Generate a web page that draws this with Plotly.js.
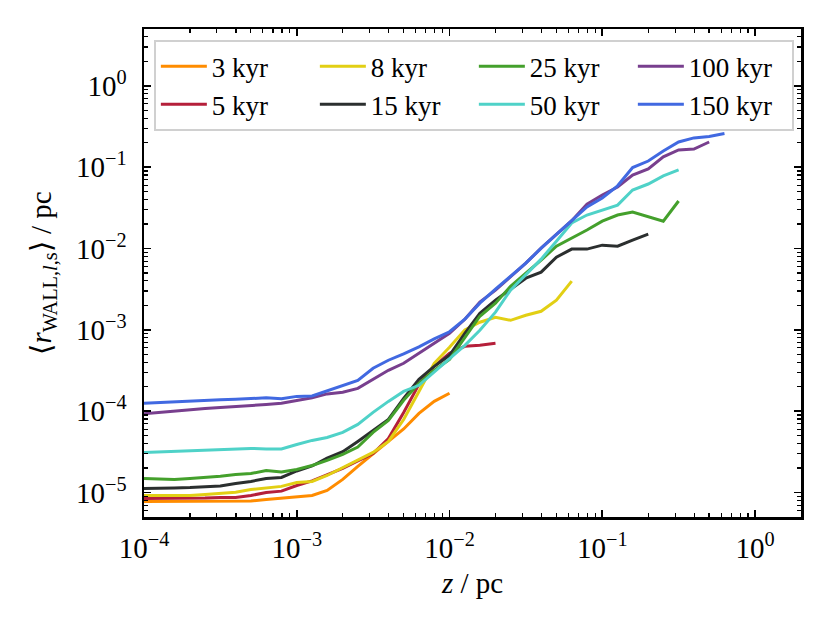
<!DOCTYPE html>
<html>
<head>
<meta charset="utf-8">
<script src="https://cdn.plot.ly/plotly-3.0.1.min.js"></script>
<style>
  html, body { margin: 0; padding: 0; background: #fff; }
  #chart { width: 831px; height: 623px; }
</style>
</head>
<body>
<div id="chart"></div>
<script>
// height z above the wall (pc), shared log bins
const z = [1.00e-4, 1.26e-4, 1.58e-4, 2.00e-4, 2.51e-4, 3.16e-4, 3.98e-4, 5.01e-4, 6.31e-4, 7.94e-4,
           1.00e-3, 1.26e-3, 1.58e-3, 2.00e-3, 2.51e-3, 3.16e-3, 3.98e-3, 5.01e-3, 6.31e-3, 7.94e-3,
           1.00e-2, 1.26e-2, 1.58e-2, 2.00e-2, 2.51e-2, 3.16e-2, 3.98e-2, 5.01e-2, 6.31e-2, 7.94e-2,
           1.00e-1, 1.26e-1, 1.58e-1, 2.00e-1, 2.51e-1, 3.16e-1, 3.98e-1, 5.01e-1, 6.31e-1];

// mean wall radius per snapshot (pc)
const r3kyr = [7.75e-6, 7.75e-6, 7.75e-6, 7.75e-6, 7.75e-6, 7.75e-6, 7.75e-6, 7.85e-6, 8.20e-6, 8.55e-6,
               8.93e-6, 9.19e-6, 1.06e-5, 1.45e-5, 2.09e-5, 3.02e-5, 4.25e-5, 6.05e-5, 9.40e-5, 1.32e-4,
               1.66e-4];
const r5kyr = [8.43e-6, 8.43e-6, 8.43e-6, 8.43e-6, 8.55e-6, 8.67e-6, 8.67e-6, 9.19e-6, 1.00e-5, 1.04e-5,
               1.22e-5, 1.39e-5, 1.67e-5, 1.98e-5, 2.45e-5, 3.02e-5, 4.62e-5, 9.66e-5, 2.14e-4, 3.56e-4,
               5.15e-4, 6.28e-4, 6.46e-4, 6.84e-4];
const r8kyr = [9.19e-6, 9.19e-6, 9.19e-6, 9.19e-6, 9.44e-6, 9.72e-6, 1.01e-5, 1.09e-5, 1.14e-5, 1.19e-5,
               1.33e-5, 1.37e-5, 1.62e-5, 2.03e-5, 2.55e-5, 3.11e-5, 4.25e-5, 7.90e-5, 1.75e-4, 3.88e-4,
               6.10e-4, 1.00e-3, 1.24e-3, 1.43e-3, 1.31e-3, 1.51e-3, 1.69e-3, 2.32e-3, 3.97e-3];
const r15kyr = [1.12e-5, 1.12e-5, 1.14e-5, 1.15e-5, 1.17e-5, 1.20e-5, 1.29e-5, 1.37e-5, 1.49e-5, 1.53e-5,
                1.84e-5, 2.12e-5, 2.65e-5, 3.17e-5, 4.25e-5, 5.80e-5, 7.92e-5, 1.44e-4, 2.47e-4, 3.56e-4,
                4.86e-4, 9.08e-4, 1.60e-3, 2.32e-3, 3.16e-3, 4.32e-3, 5.12e-3, 7.83e-3, 9.84e-3, 9.84e-3,
                1.10e-2, 1.07e-2, 1.27e-2, 1.50e-2];
const r25kyr = [1.49e-5, 1.47e-5, 1.45e-5, 1.49e-5, 1.53e-5, 1.59e-5, 1.66e-5, 1.71e-5, 1.87e-5, 1.79e-5,
                1.92e-5, 2.15e-5, 2.48e-5, 2.94e-5, 3.63e-5, 5.48e-5, 7.71e-5, 1.36e-4, 2.20e-4, 3.18e-4,
                4.34e-4, 7.90e-4, 1.47e-3, 2.13e-3, 3.44e-3, 4.98e-3, 7.20e-3, 1.07e-2, 1.34e-2, 1.69e-2,
                2.17e-2, 2.58e-2, 2.81e-2, 2.44e-2, 2.17e-2, 3.84e-2];
const r50kyr = [3.11e-5, 3.16e-5, 3.20e-5, 3.29e-5, 3.34e-5, 3.39e-5, 3.44e-5, 3.48e-5, 3.44e-5, 3.44e-5,
                3.90e-5, 4.37e-5, 4.75e-5, 5.48e-5, 6.87e-5, 9.66e-5, 1.32e-4, 1.75e-4, 2.08e-4, 3.01e-4,
                4.47e-4, 6.46e-4, 9.89e-4, 1.65e-3, 3.08e-3, 4.84e-3, 7.40e-3, 1.23e-2, 2.06e-2, 2.58e-2,
                2.97e-2, 3.42e-2, 5.24e-2, 6.21e-2, 7.80e-2, 9.25e-2];
const r100kyr = [9.27e-5, 9.66e-5, 1.01e-4, 1.04e-4, 1.08e-4, 1.11e-4, 1.15e-4, 1.18e-4, 1.21e-4, 1.25e-4,
                 1.34e-4, 1.46e-4, 1.63e-4, 1.71e-4, 1.91e-4, 2.47e-4, 3.18e-4, 3.88e-4, 5.15e-4, 6.84e-4,
                 9.08e-4, 1.35e-3, 2.19e-3, 3.08e-3, 4.45e-3, 6.61e-3, 1.01e-2, 1.48e-2, 2.20e-2, 3.50e-2,
                 4.55e-2, 5.70e-2, 8.00e-2, 9.51e-2, 1.34e-1, 1.63e-1, 1.67e-1, 2.04e-1];
const r150kyr = [1.25e-4, 1.28e-4, 1.30e-4, 1.32e-4, 1.36e-4, 1.38e-4, 1.40e-4, 1.42e-4, 1.46e-4, 1.42e-4,
                 1.52e-4, 1.54e-4, 1.78e-4, 2.05e-4, 2.39e-4, 3.37e-4, 4.23e-4, 5.08e-4, 6.19e-4, 7.76e-4,
                 9.48e-4, 1.35e-3, 2.13e-3, 3.16e-3, 4.57e-3, 6.61e-3, 1.01e-2, 1.50e-2, 2.24e-2, 3.24e-2,
                 4.18e-2, 5.90e-2, 9.90e-2, 1.19e-1, 1.58e-1, 2.04e-1, 2.29e-1, 2.39e-1, 2.60e-1];

const labels = ['3 kyr', '5 kyr', '8 kyr', '15 kyr', '25 kyr', '50 kyr', '100 kyr', '150 kyr'];
const series = [r3kyr, r5kyr, r8kyr, r15kyr, r25kyr, r50kyr, r100kyr, r150kyr];
const colors = ['#ff8c00', '#b51f3a', '#e2cf14', '#2b2f2f', '#44a02c', '#4fd2c8', '#783f8e', '#4169e1'];
// legend reads column-wise in the original (2 rows x 4 cols)
const ranks = [1, 5, 2, 6, 3, 7, 4, 8];

const decades = [1e-5, 1e-4, 1e-3, 1e-2, 1e-1, 1e0];
const decadeText = ['10<sup>−5</sup>', '10<sup>−4</sup>', '10<sup>−3</sup>', '10<sup>−2</sup>',
                    '10<sup>−1</sup>', '10<sup>0</sup>'];

// minor tick positions 2..9 per decade
let minorVals = [];
for (let e = -6; e <= 0; e++) {
    for (let m = 2; m <= 9; m++) {
        minorVals.push(m * Math.pow(10, e));
    }
}

const FONT = 'Liberation Serif';

let data = series.map((r, i) => ({
    x: z.slice(0, r.length),
    y: r,
    type: 'scatter',
    mode: 'lines',
    name: labels[i],
    legendrank: ranks[i],
    line: {color: colors[i], width: 3}
}));

function axis(extra) {
    return Object.assign({
        type: 'log',
        showgrid: false,
        zeroline: false,
        showline: true,
        linecolor: 'black',
        linewidth: 2.5,
        mirror: 'allticks',
        ticks: 'inside',
        ticklen: 7,
        tickwidth: 1.6,
        tickcolor: 'black',
        tickmode: 'array',
        tickvals: decades,
        ticktext: decadeText,
        tickfont: {family: FONT, size: 29, color: 'black'},
        minor: {
            tickmode: 'array',
            tickvals: minorVals,
            ticks: 'inside',
            ticklen: 4,
            tickwidth: 1.2,
            tickcolor: 'black',
            showgrid: false
        }
    }, extra);
}

let layout = {
    width: 831,
    height: 623,
    paper_bgcolor: 'white',
    plot_bgcolor: 'white',
    margin: {l: 144, r: 30, t: 29, b: 106},
    showlegend: true,
    font: {family: FONT, color: 'black'},
    xaxis: axis({
        range: [-4, Math.log10(2)],
        ticklabelstandoff: 4,
        title: {text: '<i>z</i> / pc', standoff: 10, font: {family: FONT, size: 29, color: 'black'}}
    }),
    yaxis: axis({
        range: [Math.log10(5e-6), Math.log10(5)],
        ticklabelstandoff: 9,
        title: {text: '⟨<i>r</i><sub>WALL,<i>l</i>,s</sub>⟩ / pc', standoff: 16,
                font: {family: FONT, size: 29, color: 'black'}}
    }),
    legend: {
        orientation: 'h',
        x: 0.015,
        y: 0.977,
        xanchor: 'left',
        yanchor: 'top',
        bgcolor: 'rgba(255,255,255,0.85)',
        bordercolor: '#d0d0d0',
        borderwidth: 2,
        itemwidth: 46,
        entrywidth: 98,
        font: {family: FONT, size: 27, color: 'black'},
        traceorder: 'normal'
    }
};

Plotly.newPlot('chart', data, layout, {displayModeBar: false, staticPlot: true});
</script>
</body>
</html>
